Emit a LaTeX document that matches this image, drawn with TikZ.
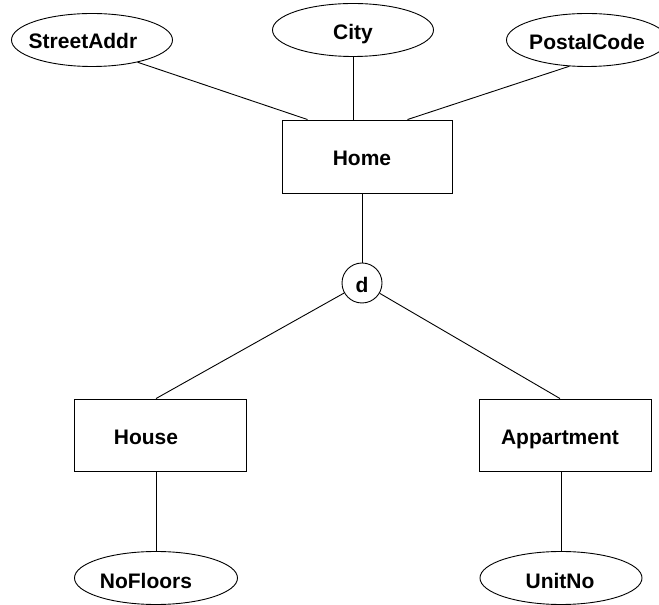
\documentclass[tikz,border=0pt]{standalone}
\usepackage{fontspec}
\setmainfont{Liberation Sans}
\usetikzlibrary{shapes.geometric}

\begin{document}
\begin{tikzpicture}[x=1pt, y=1pt,
    entity/.style={rectangle, draw=black, line width=0.9pt, fill=white,
        minimum width=172pt, minimum height=72pt, inner sep=0pt},
    attr/.style={ellipse, draw=black, line width=0.9pt, fill=white,
        minimum width=161pt, minimum height=53pt, inner sep=0pt},
    disj/.style={circle, draw=black, line width=0.9pt, fill=white,
        minimum size=40pt, inner sep=0pt},
    every label/.style={font=\fontsize{21}{25}\selectfont\bfseries, inner sep=0pt},
    edge/.style={line width=0.9pt, -}
]
    \useasboundingbox (0,0) rectangle (659,605);
    \node[attr, label={[xshift=-9pt, yshift=-1pt]center:StreetAddr}] (street) at (92,565) {};
    \node[attr, label={[yshift=-4pt]center:City}] (city) at (353,575) {};
    \node[attr, label={[yshift=-2pt]center:PostalCode}] (postal) at (587,565) {};
    \node[entity, minimum width=170pt, minimum height=73pt,
        label={[xshift=-5pt, yshift=-2pt]center:Home}] (home) at (367,448.5) {};
    \node[disj, label={[yshift=-2pt]center:d}] (d) at (362,322) {};
    \node[entity, label={[xshift=-14pt, yshift=-2pt]center:House}] (house) at (160,170) {};
    \node[entity, label={[xshift=-5pt, yshift=-4pt]center:Appartment}] (appt) at (565,170) {};
    \node[attr, minimum width=163pt, label={[xshift=-10pt, yshift=-3pt]center:NoFloors}] (floors) at (156,27) {};
    \node[attr, minimum width=162pt, label={[xshift=-1pt, yshift=-3pt]center:UnitNo}] (unit) at (561,27) {};
    \draw[edge] (street.-26) -- ([xshift=26pt]home.north west);
    \draw[edge] (city.south) -- (city.south |- home.north);
    \draw[edge] (postal.236) -- ([xshift=-45pt]home.north east);
    \draw[edge] (home.south -| d) -- (d);
    \draw[edge] (d) -- ([xshift=-4pt]house.north);
    \draw[edge] (d) -- ([xshift=-5pt]appt.north);
    \draw[edge] (floors.north |- house.south) -- (floors);
    \draw[edge] (unit.north |- appt.south) -- (unit);
\end{tikzpicture}
\end{document}
